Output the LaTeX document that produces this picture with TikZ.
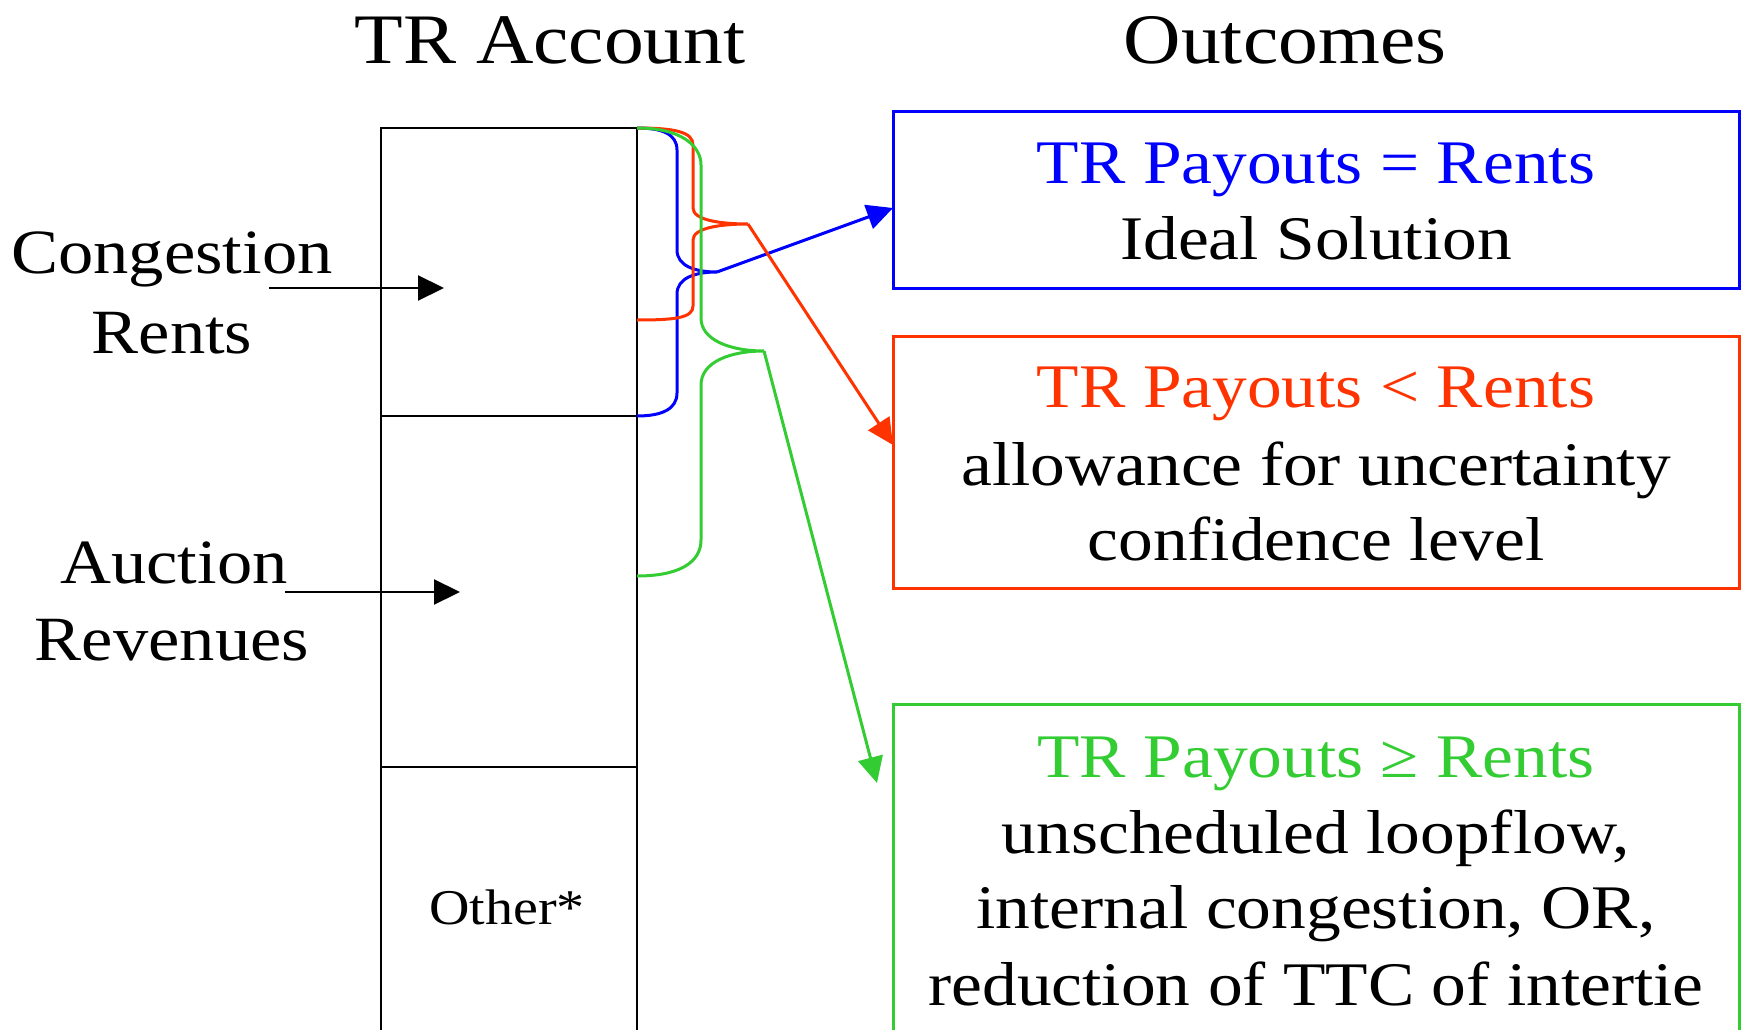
\documentclass[tikz,border=0pt]{standalone}
\usepackage{fontspec}
\setmainfont{Liberation Serif}[FakeStretch=1.12]
\usetikzlibrary{arrows.meta}
\definecolor{cblue}{RGB}{0,0,255}
\definecolor{cred}{RGB}{255,51,0}
\definecolor{cgreen}{RGB}{51,204,51}
\tikzset{
  title/.style={font=\fontsize{71}{86}\selectfont, anchor=base, inner sep=0pt},
  lbl/.style={font=\fontsize{63}{80}\selectfont, anchor=base, inner sep=0pt},
  boxtxt/.style={font=\fontsize{62}{74}\selectfont, anchor=base, inner sep=0pt},
  outbox/.style={draw, line width=3pt, minimum width=846pt, inner sep=0pt},
  blk/.style={line width=2.2pt},
  brace/.style={line width=3pt},
  bigtip/.style={-{Triangle[length=26pt,width=25pt]}},
}
\begin{document}
\begin{tikzpicture}[x=1pt,y=-1pt]
\useasboundingbox (0,0) rectangle (1741,1030);
% titles
\node[title] (t1) at (550,64) {TR Account};
\node[title] (t2) at (1285,64) {Outcomes};
% account column
\draw[blk] (381,1060) -- (381,128) -- (637,128) -- (637,1060);
\draw[blk] (381,416) -- (637,416);
\draw[blk] (381,767) -- (637,767);
\coordinate (acTop) at (637,128);
\node[font=\fontsize{50}{60}\selectfont, anchor=base, inner sep=0pt] (oth) at (507,924) {Other*};
% left labels
\node[lbl] (cg1) at (172,273) {Congestion};
\node[lbl] (cg2) at (172,353) {Rents};
\node[lbl] (au1) at (174,583) {Auction};
\node[lbl] (au2) at (172,660) {Revenues};
\coordinate (cgS) at (269,288);
\coordinate (cgE) at (444,288);
\coordinate (auS) at (285,592);
\coordinate (auE) at (460,592);
\draw[blk,bigtip] (cgS) -- (cgE);
\draw[blk,bigtip] (auS) -- (auE);
% outcome boxes
\node[outbox, draw=cblue, minimum height=176pt] (bbox) at (1316,200) {};
\node[outbox, draw=cred, minimum height=252pt] (rbox) at (1316,462) {};
\node[outbox, draw=cgreen, minimum height=356pt] (gbox) at (1316,882) {};
% box texts
\node[boxtxt, text=cblue] (b1) at (1316,183) {TR Payouts = Rents};
\node[boxtxt] (b2) at (1316,259) {Ideal Solution};
\node[boxtxt, text=cred] (r1) at (1316,407) {TR Payouts < Rents};
\node[boxtxt] (r2) at (1316,485) {allowance for uncertainty};
\node[boxtxt] (r3) at (1316,560) {confidence level};
\node[boxtxt, text=cgreen] (g1) at (1316,777) {TR Payouts ≥ Rents};
\node[boxtxt] (g2) at (1316,853) {unscheduled loopflow,};
\node[boxtxt] (g3) at (1316,928) {internal congestion, OR,};
\node[boxtxt] (g4) at (1316,1005) {reduction of TTC of intertie};
% braces
\coordinate (btip) at (717,272);
\coordinate (rtip) at (748,224);
\coordinate (gtip) at (764,351);
\draw[brace, cblue] (acTop) .. controls (662,128) and (677,134) .. (677,150) -- (677,250)
  .. controls (677,266) and (695,272) .. (btip)
  .. controls (695,272) and (677,278) .. (677,294) -- (677,393)
  .. controls (677,409) and (662,416) .. (637,416);
\draw[brace, cred] (acTop) .. controls (675,128) and (693,132) .. (693,145) -- (693,208)
  .. controls (693,220) and (720,224) .. (rtip)
  .. controls (720,224) and (693,228) .. (693,240) -- (693,306)
  .. controls (693,318) and (675,320) .. (637,320);
\draw[brace, cgreen] (acTop) .. controls (680,128) and (701,145) .. (701,165) -- (701,318)
  .. controls (701,340) and (730,351) .. (gtip)
  .. controls (730,351) and (701,362) .. (701,385) -- (701,540)
  .. controls (701,562) and (680,576) .. (637,576);
% outcome arrows
\coordinate (bE) at (893,208);
\coordinate (rE) at (893,445);
\coordinate (gE) at (877,783);
\draw[brace, cblue, bigtip] (btip) -- (bE);
\draw[brace, cred, bigtip] (rtip) -- (rE);
\draw[brace, cgreen, bigtip] (gtip) -- (gE);
\end{tikzpicture}
\end{document}
